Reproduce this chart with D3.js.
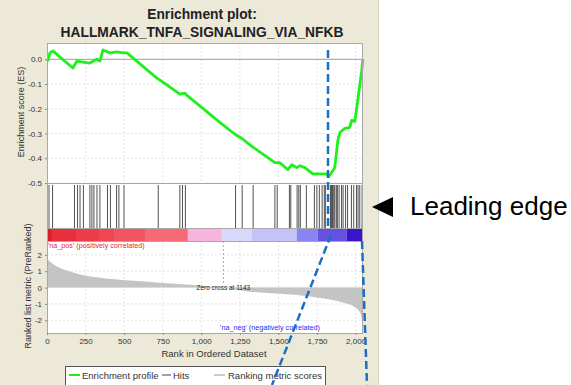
<!DOCTYPE html>
<html>
<head>
<meta charset="utf-8">
<script src="https://cdn.jsdelivr.net/npm/d3@7"></script>
<style>
  body { margin: 0; background: #fff; }
  svg { display: block; font-family: "Liberation Sans", Arial, sans-serif; }
</style>
</head>
<body>
<div id="chart"></div>
<script>
// Running enrichment score (rank, ES)
const esRanks = [0, 8, 19, 39, 84, 168, 194, 233, 278, 324, 343, 363, 408, 453, 492, 518, 551,
  712, 797, 861, 894, 913, 1010, 1120, 1218, 1263, 1328, 1367, 1477, 1509, 1561, 1587, 1619,
  1639, 1671, 1723, 1768, 1813, 1826, 1865, 1885, 1898, 1930, 1962, 1975, 1995, 2008, 2027, 2040, 2047];
const esValues = [0, -0.003, 0.026, 0.034, 0.009, -0.035, -0.007, -0.011, -0.015, 0.001, -0.007, 0.038, 0.026, 0.030, 0.026, 0.026, 0.009,
  -0.076, -0.112, -0.141, -0.137, -0.149, -0.198, -0.255, -0.303, -0.320, -0.352, -0.369, -0.418, -0.418, -0.446, -0.426, -0.438,
  -0.430, -0.438, -0.463, -0.463, -0.463, -0.475, -0.438, -0.328, -0.296, -0.279, -0.275, -0.247, -0.251, -0.194, -0.105, -0.044, 0.001];

// Positions of gene set members in the ranked list
const hitRanks = [13, 36, 178, 198, 214, 236, 278, 291, 304, 324, 343, 392, 411, 451, 466, 499, 721, 861, 878, 897,
  1222, 1265, 1336, 1477, 1492, 1571, 1580, 1621, 1632, 1642, 1681, 1733, 1749, 1765, 1783, 1797, 1804,
  1837, 1843, 1848, 1852, 1859, 1865, 1875, 1882, 1893, 1909, 1919, 1935, 1948, 1973, 1988, 2006, 2016, 2027, 2042];

// Ranked list metric (rank, score)
const metricRanks = [0, 5, 19, 45, 84, 150, 214, 343, 538, 732, 926, 1050, 1143, 1315, 1574, 1749, 1898, 1995, 2027, 2040, 2044, 2047];
const metricValues = [1.95, 1.75, 1.6, 1.4, 1.2, 0.98, 0.8, 0.6, 0.43, 0.3, 0.18, 0.08, 0, -0.25, -0.43, -0.6, -0.86, -1.2, -1.5, -2.0, -2.4, -2.6];
const zeroCross = 1143;

// Colour bar blocks
const barStops = [0, 32, 194, 343, 440, 635, 913, 1133, 1328, 1619, 1755, 1943, 2048];
const barColors = ["#dc1c24", "#e8303c", "#ec3c48", "#ef4654", "#f25462", "#f66a78",
  "#f7b4dc", "#d8d8fa", "#c4c2f6", "#8884f0", "#6650e2", "#3a14cc"];

// Ticks
const rankTicks = [0, 250, 500, 750, 1000, 1250, 1500, 1750, 2000];
const esTicks = [0, -0.1, -0.2, -0.3, -0.4, -0.5];
const esTickLabels = ["0.0", "-0.1", "-0.2", "-0.3", "-0.4", "-0.5"];
const metricTicks = [2, 1, 0, -1, -2];
const metricTickLabels = ["2", "1", "0", "-1", "-2"];

const W = 571, H = 385;
const svg = d3.select("#chart").append("svg").attr("width", W).attr("height", H);

// beige panel
svg.append("rect").attr("x", 0).attr("y", 0).attr("width", 378).attr("height", H).attr("fill", "#ece9d8");
svg.append("line").attr("x1", 378.5).attr("x2", 378.5).attr("y1", 0).attr("y2", H).attr("stroke", "#d6d3c2");

const left = 47, right = 363;
const esTop = 43, esBottom = 183, hitsBottom = 228, barBottom = 241, rlBottom = 333;

const x = d3.scaleLinear().domain([0, 2048]).range([left, right]);
const yES = d3.scaleLinear().domain([-0.5, 0.066]).range([esBottom, esTop]);
const yRL = d3.scaleLinear().domain([-2.78, 2.85]).range([rlBottom, barBottom]);

// white plot backgrounds
svg.append("rect").attr("x", left).attr("y", esTop).attr("width", right - left).attr("height", rlBottom - esTop).attr("fill", "#fff");

const grid = svg.append("g").attr("stroke", "#e2e2e2").attr("stroke-dasharray", "2,2");
// vertical grid lines in ES and ranked panels
rankTicks.slice(1).forEach(r => {
    grid.append("line").attr("x1", x(r)).attr("x2", x(r)).attr("y1", esTop).attr("y2", esBottom);
    grid.append("line").attr("x1", x(r)).attr("x2", x(r)).attr("y1", barBottom).attr("y2", rlBottom);
});
esTicks.forEach(t => {
    grid.append("line").attr("x1", left).attr("x2", right).attr("y1", yES(t)).attr("y2", yES(t));
});
metricTicks.forEach(t => {
    grid.append("line").attr("x1", left).attr("x2", right).attr("y1", yRL(t)).attr("y2", yRL(t));
});

// ES zero line
svg.append("line").attr("x1", left).attr("x2", right).attr("y1", yES(0)).attr("y2", yES(0))
    .attr("stroke", "#a0a0a0");

// ranked list metric area
const metricData = metricRanks.map((r, i) => ({ r, v: metricValues[i] }));
svg.append("path")
    .datum(metricData)
    .attr("fill", "#c4c4c4")
    .attr("d", d3.area().x(d => x(d.r)).y0(yRL(0)).y1(d => yRL(d.v)).curve(d3.curveMonotoneX));

// zero cross marker
svg.append("line").attr("x1", x(zeroCross)).attr("x2", x(zeroCross))
    .attr("y1", barBottom).attr("y2", yRL(0) - 4)
    .attr("stroke", "#aaa").attr("stroke-dasharray", "2,2");
svg.append("text").attr("x", x(zeroCross)).attr("y", yRL(0) + 2.5)
    .attr("text-anchor", "middle").attr("font-size", 6.5).attr("fill", "#222")
    .text("Zero cross at " + zeroCross);

// hits
svg.append("g").selectAll("line").data(hitRanks).join("line")
    .attr("x1", d => x(d)).attr("x2", d => x(d))
    .attr("y1", esBottom + 2).attr("y2", hitsBottom)
    .attr("stroke", "#333").attr("stroke-width", 1).attr("stroke-opacity", 0.85);

// colour bar
svg.append("g").selectAll("rect").data(barColors).join("rect")
    .attr("x", (d, i) => x(barStops[i]))
    .attr("width", (d, i) => x(barStops[i + 1]) - x(barStops[i]))
    .attr("y", hitsBottom).attr("height", barBottom - hitsBottom)
    .attr("fill", d => d);

// ES curve
const esData = esRanks.map((r, i) => ({ r, v: esValues[i] }));
svg.append("path")
    .datum(esData)
    .attr("fill", "none")
    .attr("stroke", "#1ef01e")
    .attr("stroke-width", 2.8)
    .attr("stroke-linejoin", "round")
    .attr("d", d3.line().x(d => x(d.r)).y(d => yES(d.v)));

// panel frames
const frame = svg.append("g").attr("fill", "none").attr("stroke", "#a8a8a8");
frame.append("rect").attr("x", left + 0.5).attr("y", esTop + 0.5).attr("width", right - left - 1).attr("height", esBottom - esTop);
frame.append("rect").attr("x", left + 0.5).attr("y", esBottom + 0.5).attr("width", right - left - 1).attr("height", hitsBottom - esBottom);
frame.append("rect").attr("x", left + 0.5).attr("y", hitsBottom + 0.5).attr("width", right - left - 1).attr("height", barBottom - hitsBottom);
frame.append("rect").attr("x", left + 0.5).attr("y", barBottom + 0.5).attr("width", right - left - 1).attr("height", rlBottom - barBottom);

// axes
function styleAxis(g) {
    g.select(".domain").remove();
    g.selectAll(".tick line").attr("stroke", "#888");
    g.selectAll(".tick text").attr("fill", "#333").style("font-size", "8px")
        .style("font-family", "'Liberation Sans', Arial, sans-serif");
}
svg.append("g").attr("transform", `translate(${left},0)`)
    .call(d3.axisLeft(yES).tickValues(esTicks).tickFormat((d, i) => esTickLabels[i]).tickSize(2).tickPadding(3))
    .call(styleAxis);
svg.append("g").attr("transform", `translate(${left},0)`)
    .call(d3.axisLeft(yRL).tickValues(metricTicks).tickFormat((d, i) => metricTickLabels[i]).tickSize(2).tickPadding(3))
    .call(styleAxis);
svg.append("g").attr("transform", `translate(0,${rlBottom})`)
    .call(d3.axisBottom(x).tickValues(rankTicks).tickFormat(d3.format(",")).tickSize(2).tickPadding(3))
    .call(styleAxis);

// axis titles
svg.append("text").attr("transform", "translate(24,112) rotate(-90)")
    .attr("text-anchor", "middle").attr("font-size", 9).attr("fill", "#333")
    .text("Enrichment score (ES)");
svg.append("text").attr("transform", "translate(31,286) rotate(-90)")
    .attr("text-anchor", "middle").attr("font-size", 9).attr("fill", "#333")
    .text("Ranked list metric (PreRanked)");
svg.append("text").attr("x", 214).attr("y", 357)
    .attr("text-anchor", "middle").attr("font-size", 9.5).attr("fill", "#333")
    .text("Rank in Ordered Dataset");

// pos / neg labels
svg.append("text").attr("x", left + 1).attr("y", 248)
    .attr("font-size", 7.2).attr("fill", "#e8282a")
    .text("'na_pos' (positively correlated)");
svg.append("text").attr("x", 270).attr("y", 329.5)
    .attr("text-anchor", "middle").attr("font-size", 7.2).attr("fill", "#2a2af0")
    .text("'na_neg' (negatively correlated)");

// title
const title = svg.append("g").attr("text-anchor", "middle").attr("font-weight", "bold")
    .attr("fill", "#222").attr("font-size", 13.8);
title.append("text").attr("x", 202).attr("y", 19).text("Enrichment plot:");
title.append("text").attr("x", 202).attr("y", 37).text("HALLMARK_TNFA_SIGNALING_VIA_NFKB");

// legend
const lg = svg.append("g");
lg.append("rect").attr("x", 65.5).attr("y", 366.5).attr("width", 260).attr("height", 22)
    .attr("fill", "#fff").attr("stroke", "#555");
lg.append("line").attr("x1", 69).attr("x2", 80).attr("y1", 375).attr("y2", 375)
    .attr("stroke", "#1ef01e").attr("stroke-width", 2);
lg.append("text").attr("x", 82).attr("y", 379).attr("font-size", 9.5).attr("fill", "#333").text("Enrichment profile");
lg.append("line").attr("x1", 162).attr("x2", 171).attr("y1", 375).attr("y2", 375)
    .attr("stroke", "#444").attr("stroke-width", 1);
lg.append("text").attr("x", 173).attr("y", 379).attr("font-size", 9.5).attr("fill", "#333").text("Hits");
lg.append("line").attr("x1", 214).attr("x2", 225).attr("y1", 375).attr("y2", 375)
    .attr("stroke", "#bbb").attr("stroke-width", 1.5);
lg.append("text").attr("x", 228).attr("y", 379).attr("font-size", 9.5).attr("fill", "#333").text("Ranking metric scores");

// leading edge annotation
const ann = svg.append("g").attr("fill", "none").attr("stroke", "#1b6fc2")
    .attr("stroke-width", 2.5).attr("stroke-dasharray", "8,4");
ann.append("line").attr("x1", 328).attr("x2", 328).attr("y1", 50).attr("y2", 230);
ann.append("line").attr("x1", 331).attr("x2", 272).attr("y1", 235).attr("y2", 385);
ann.append("line").attr("x1", 362).attr("x2", 367).attr("y1", 241).attr("y2", 385);

svg.append("path").attr("d", "M372,207 L393,197 L393,217 Z").attr("fill", "#000");
svg.append("text").attr("x", 410).attr("y", 215).attr("font-size", 26).attr("fill", "#000")
    .text("Leading edge");
</script>
</body>
</html>
